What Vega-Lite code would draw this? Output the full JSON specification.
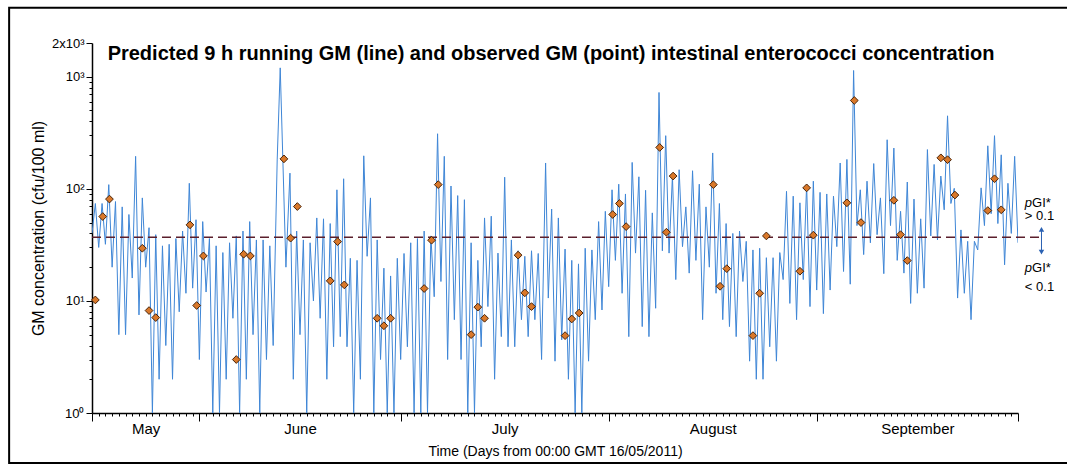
{
  "$schema": "https://vega.github.io/schema/vega-lite/v6.json",
  "width": 926,
  "height": 370,
  "autosize": {"type": "none"},
  "padding": {"left": 92, "top": 43, "right": 49, "bottom": 60},
  "background": "white",
  "config": {
    "view": {"stroke": null},
    "font": "Liberation Sans"
  },
  "title": {
    "text": "Predicted 9 h running GM (line) and observed GM (point) intestinal enterococci concentration",
    "fontSize": 20,
    "fontWeight": "bold",
    "font": "Liberation Sans",
    "color": "black",
    "anchor": "middle",
    "frame": "group",
    "offset": -57,
    "dx": -4
  },
  "datasets": {
    "line": [
      {"d":0,"v":40},{"d":0.5,"v":74},{"d":1,"v":30},{"d":1.5,"v":74},{"d":2,"v":32},{"d":2.5,"v":109},{"d":3,"v":20},{"d":3.5,"v":77},{"d":4,"v":5},{"d":4.5,"v":69},{"d":5,"v":5},{"d":5.5,"v":59},{"d":6,"v":16},{"d":6.5,"v":195},{"d":7,"v":7.5},{"d":7.5,"v":83},{"d":8,"v":20},{"d":8.5,"v":45},{"d":9,"v":1},{"d":9.5,"v":39},{"d":10,"v":2},{"d":10.5,"v":31},{"d":11,"v":4},{"d":11.5,"v":32},{"d":12,"v":2},{"d":12.5,"v":36},{"d":13,"v":8},{"d":13.5,"v":42},{"d":14,"v":11.7},{"d":14.5,"v":112},{"d":15,"v":13},{"d":15.5,"v":53},{"d":16,"v":3},{"d":16.5,"v":51},{"d":17,"v":12},{"d":17.5,"v":36},{"d":18,"v":1},{"d":18.5,"v":31},{"d":19,"v":1},{"d":19.5,"v":27},{"d":20,"v":2},{"d":20.5,"v":33},{"d":21,"v":7},{"d":21.5,"v":38},{"d":22,"v":1},{"d":22.5,"v":42},{"d":23,"v":2},{"d":23.5,"v":51},{"d":24,"v":5},{"d":24.5,"v":35},{"d":25,"v":1},{"d":25.5,"v":35},{"d":26,"v":3},{"d":26.5,"v":31},{"d":27,"v":4},{"d":27.6,"v":181},{"d":28.05,"v":1200},{"d":28.9,"v":20},{"d":29.5,"v":138},{"d":30,"v":2},{"d":30.5,"v":42},{"d":31,"v":5},{"d":31.5,"v":35},{"d":32,"v":1},{"d":32.5,"v":33},{"d":33,"v":10},{"d":33.5,"v":55},{"d":34,"v":7},{"d":34.5,"v":54},{"d":35,"v":2},{"d":35.5,"v":49},{"d":36,"v":3.9},{"d":36.5,"v":98},{"d":37,"v":4.8},{"d":37.5,"v":123},{"d":38,"v":3.9},{"d":38.5,"v":24},{"d":39,"v":1},{"d":39.5,"v":23},{"d":40,"v":2},{"d":40.5,"v":197},{"d":41,"v":25},{"d":41.5,"v":83},{"d":42,"v":1},{"d":42.5,"v":35},{"d":43,"v":3},{"d":43.5,"v":19.6},{"d":44,"v":1},{"d":44.5,"v":16.7},{"d":45,"v":1},{"d":45.5,"v":24},{"d":46,"v":3},{"d":46.5,"v":26.5},{"d":47,"v":3.9},{"d":47.5,"v":33},{"d":48,"v":1},{"d":48.5,"v":36},{"d":49,"v":1},{"d":49.5,"v":42},{"d":50,"v":1},{"d":50.5,"v":38},{"d":51,"v":10.9},{"d":51.5,"v":310},{"d":52,"v":14.9},{"d":52.5,"v":195},{"d":53,"v":3},{"d":53.5,"v":106},{"d":54,"v":6.8},{"d":54.5,"v":87},{"d":55,"v":3},{"d":55.5,"v":80},{"d":56,"v":1},{"d":56.5,"v":33},{"d":57,"v":1},{"d":57.5,"v":23},{"d":58,"v":3.9},{"d":58.5,"v":55},{"d":59,"v":8.9},{"d":59.5,"v":57},{"d":60,"v":2},{"d":60.5,"v":26.7},{"d":61,"v":4.8},{"d":61.5,"v":127},{"d":62,"v":3.9},{"d":62.5,"v":35},{"d":63,"v":3.9},{"d":63.5,"v":28},{"d":64,"v":6.8},{"d":64.5,"v":25},{"d":65,"v":4.8},{"d":65.5,"v":28},{"d":66,"v":6.8},{"d":66.5,"v":26.5},{"d":67,"v":3},{"d":67.6,"v":170},{"d":68,"v":10.6},{"d":68.5,"v":66},{"d":69,"v":2.9},{"d":69.5,"v":55},{"d":70,"v":4.5},{"d":70.5,"v":29},{"d":71,"v":2},{"d":71.5,"v":23},{"d":72,"v":1},{"d":72.5,"v":21.4},{"d":73,"v":1},{"d":73.5,"v":29.5},{"d":74,"v":2.9},{"d":74.5,"v":28.5},{"d":75,"v":6.8},{"d":75.5,"v":51},{"d":76,"v":8.3},{"d":76.5,"v":63},{"d":77,"v":13.4},{"d":77.5,"v":98},{"d":78,"v":23},{"d":78.5,"v":110},{"d":79,"v":11.7},{"d":79.5,"v":90},{"d":80,"v":4.8},{"d":80.5,"v":172},{"d":81,"v":26.7},{"d":81.5,"v":128},{"d":82,"v":5.9},{"d":82.5,"v":97},{"d":83,"v":4.8},{"d":83.5,"v":61},{"d":84,"v":8.6},{"d":84.5,"v":724},{"d":85,"v":28},{"d":85.5,"v":298},{"d":86,"v":26.7},{"d":86.5,"v":130},{"d":87,"v":15.5},{"d":87.5,"v":148},{"d":88,"v":30.5},{"d":88.5,"v":69},{"d":89,"v":17.7},{"d":89.5,"v":145},{"d":90,"v":23},{"d":90.5,"v":110},{"d":91,"v":6.8},{"d":91.5,"v":69},{"d":92,"v":20},{"d":92.5,"v":209},{"d":93,"v":11.7},{"d":93.5,"v":74},{"d":94,"v":6.8},{"d":94.5,"v":49},{"d":95,"v":5.9},{"d":95.5,"v":40},{"d":96,"v":4.8},{"d":96.5,"v":42},{"d":97,"v":14.9},{"d":97.5,"v":34},{"d":98,"v":2.9},{"d":98.5,"v":28.5},{"d":99,"v":2},{"d":99.5,"v":29.5},{"d":100,"v":2},{"d":100.5,"v":24.3},{"d":101,"v":3.9},{"d":101.5,"v":24.3},{"d":102,"v":2.9},{"d":102.5,"v":27},{"d":103,"v":15.5},{"d":103.5,"v":95},{"d":104,"v":9.5},{"d":104.5,"v":86},{"d":105,"v":6.8},{"d":105.5,"v":75},{"d":106,"v":15.5},{"d":106.5,"v":109},{"d":107,"v":8.9},{"d":107.5,"v":117},{"d":108,"v":12.5},{"d":108.5,"v":93},{"d":109,"v":7.7},{"d":109.5,"v":90},{"d":110,"v":12.5},{"d":110.5,"v":86},{"d":111,"v":30.5},{"d":111.5,"v":170},{"d":112,"v":18.3},{"d":112.5,"v":183},{"d":113,"v":14.1},{"d":113.5,"v":1137},{"d":114,"v":47},{"d":114.5,"v":98},{"d":115,"v":25.9},{"d":115.5,"v":117},{"d":116,"v":33},{"d":116.5,"v":168},{"d":117,"v":39},{"d":117.5,"v":83},{"d":118,"v":17.5},{"d":118.5,"v":274},{"d":119,"v":47},{"d":119.5,"v":231},{"d":120,"v":23},{"d":120.5,"v":63},{"d":121,"v":17.7},{"d":121.5,"v":115},{"d":122,"v":9.5},{"d":122.5,"v":81},{"d":123,"v":11.7},{"d":123.5,"v":54},{"d":124,"v":13},{"d":124.5,"v":224},{"d":125,"v":38},{"d":125.5,"v":165},{"d":126,"v":35},{"d":126.5,"v":130},{"d":127,"v":65},{"d":127.5,"v":448},{"d":128,"v":74},{"d":128.5,"v":101},{"d":129,"v":10.6},{"d":129.5,"v":43},{"d":130,"v":11.7},{"d":130.5,"v":34},{"d":131,"v":6.8},{"d":131.5,"v":34},{"d":132,"v":28.5},{"d":132.5,"v":102},{"d":133,"v":47},{"d":133.5,"v":242},{"d":134,"v":60},{"d":134.5,"v":298},{"d":135,"v":49},{"d":135.5,"v":201},{"d":136,"v":21},{"d":136.5,"v":112},{"d":137,"v":40},{"d":137.5,"v":195},{"d":138,"v":33}
    ],
    "obs": [
      {"d":0.5,"v":10.2},{"d":1.6,"v":56.6},{"d":2.6,"v":81},{"d":7.5,"v":29.5},{"d":8.5,"v":8.2},{"d":9.5,"v":7.1},{"d":14.6,"v":47.7},{"d":15.6,"v":9.1},{"d":16.6,"v":25.2},{"d":21.5,"v":3.0},{"d":22.6,"v":26.1},{"d":23.6,"v":25.2},{"d":28.6,"v":185},{"d":29.6,"v":36.3},{"d":30.6,"v":69.5},
      {"d":35.5,"v":15.1},{"d":36.6,"v":33.8},{"d":37.6,"v":13.9},{"d":42.5,"v":7.0},{"d":43.5,"v":6.0},{"d":44.5,"v":7.0},{"d":49.5,"v":12.9},{"d":50.6,"v":34.8},{"d":51.6,"v":109},{"d":56.5,"v":5.0},{"d":57.5,"v":8.8},{"d":58.5,"v":7.0},{"d":63.5,"v":25.6},{"d":64.5,"v":11.8},{"d":65.5,"v":8.9},
      {"d":70.5,"v":4.9},{"d":71.5,"v":6.9},{"d":72.6,"v":7.8},{"d":77.6,"v":59},{"d":78.6,"v":74},{"d":79.6,"v":46},{"d":84.6,"v":234},{"d":85.6,"v":41},{"d":86.6,"v":130},{"d":92.6,"v":109},{"d":93.6,"v":13.5},{"d":94.6,"v":19.4},{"d":98.5,"v":4.9},{"d":99.5,"v":11.7},{"d":100.5,"v":38},
      {"d":105.5,"v":18.4},{"d":106.5,"v":102},{"d":107.5,"v":38.6},{"d":112.5,"v":75},{"d":113.6,"v":614},{"d":114.6,"v":50},{"d":119.5,"v":79},{"d":120.5,"v":39},{"d":121.5,"v":22.9},{"d":126.5,"v":189},{"d":127.5,"v":182},{"d":128.6,"v":88},{"d":133.5,"v":64},{"d":134.5,"v":123},{"d":135.5,"v":65}
    ],
    "notes": [
      {"d":140.1,"v":75,"t":"p","k":"p"},
      {"d":140.1,"v":75,"t":"GI*","k":"g"},
      {"d":141.2,"v":57.4,"t":"> 0.1","k":"c"},
      {"d":140.1,"v":19.7,"t":"p","k":"p"},
      {"d":140.1,"v":19.7,"t":"GI*","k":"g"},
      {"d":141.2,"v":13.3,"t":"< 0.1","k":"c"}
    ],
    "frame": [{"x1": -12.35, "x2": 150, "y1": 4130, "y2": 0.358}],
    "cut": [{"d0": 0, "d1": 141.4, "v": 37}],
    "arrow": [{"d": 141.5, "up": 43.5, "down": 27.2}]
  },
  "layer": [
    {
      "data": {"name": "line"},
      "mark": {"type": "line", "color": "#3f86d6", "strokeWidth": 1, "clip": true},
      "encoding": {
        "x": {
          "field": "d", "type": "quantitative",
          "scale": {"domain": [0, 138], "nice": false, "zero": false},
          "axis": {
            "title": "Time (Days from 00:00 GMT 16/05/2011)",
            "titleFontSize": 14, "titleFontWeight": "normal", "titleColor": "black", "titleFont": "Liberation Sans",
            "titlePadding": 3,
            "tickCount": 500,
            "values": [0,1,2,3,4,5,6,7,8,9,10,11,12,13,14,15,16,17,18,19,20,21,22,23,24,25,26,27,28,29,30,31,32,33,34,35,36,37,38,39,40,41,42,43,44,45,46,47,48,49,50,51,52,53,54,55,56,57,58,59,60,61,61.5,62,63,64,65,66,67,68,69,70,71,72,73,74,75,76,77,78,79,80,81,82,83,84,85,86,87,88,89,90,91,92,92.5,93,94,95,96,97,98,99,100,101,102,103,104,105,106,107,108,109,110,111,112,113,114,115,116,117,118,119,120,121,122,123,124,125,126,127,128,129,130,131,132,133,134,135,136,137,138],
            "labelExpr": "datum.value == 8 ? 'May' : datum.value == 31 ? 'June' : datum.value == 61.5 ? 'July' : datum.value == 92.5 ? 'August' : datum.value == 123 ? 'September' : ''",
            "labelOverlap": false,
            "labelBound": false,
            "labelFlush": false,
            "labelFontSize": 15,
            "labelColor": "black",
            "labelPadding": 5,
            "grid": false,
            "domainColor": "black",
            "domainWidth": 1.5,
            "tickColor": "black",
            "tickWidth": 1,
            "tickSize": {"condition": {"test": "indexof([0,16,46,77,108,138], datum.value) >= 0", "value": 8}, "value": 3},
            "tickOpacity": {"condition": {"test": "datum.value == 61.5 || datum.value == 92.5", "value": 0}, "value": 1}
          }
        },
        "y": {
          "field": "v", "type": "quantitative",
          "scale": {"type": "log", "domain": [1, 2000], "nice": false},
          "axis": {
            "title": "GM concentration (cfu/100 ml)",
            "titleFontSize": 16, "titleFontWeight": "normal", "titleColor": "black", "titleFont": "Liberation Sans",
            "titlePadding": 5,
            "tickCount": 500,
            "values": [1,2,3,4,5,6,7,8,9,10,20,30,40,50,60,70,80,90,100,200,300,400,500,600,700,800,900,1000,2000],
            "labelExpr": "datum.value == 1 ? '10⁰' : datum.value == 10 ? '10¹' : datum.value == 100 ? '10²' : datum.value == 1000 ? '10³' : datum.value == 2000 ? '2x10³' : ''",
            "labelOverlap": false,
            "labelBound": false,
            "labelFlush": false,
            "labelFontSize": 13,
            "labelColor": "black",
            "labelPadding": 2,
            "grid": false,
            "domainColor": "black",
            "domainWidth": 1.5,
            "tickColor": "black",
            "tickWidth": 1,
            "tickSize": {"condition": {"test": "indexof([1,10,100,1000,2000], datum.value) >= 0", "value": 6}, "value": 3}
          }
        }
      }
    },
    {
      "data": {"name": "frame"},
      "mark": {"type": "rect", "fill": "transparent", "stroke": "black", "strokeWidth": 2, "clip": false},
      "encoding": {
        "x": {"field": "x1", "type": "quantitative"},
        "x2": {"field": "x2"},
        "y": {"field": "y1", "type": "quantitative"},
        "y2": {"field": "y2"}
      }
    },
    {
      "data": {"name": "cut"},
      "mark": {"type": "rule", "color": "#5b1f2c", "strokeWidth": 1.4, "strokeDash": [9, 5], "clip": false},
      "encoding": {
        "x": {"field": "d0", "type": "quantitative"},
        "x2": {"field": "d1"},
        "y": {"field": "v", "type": "quantitative"}
      }
    },
    {
      "data": {"name": "obs"},
      "mark": {"type": "point", "shape": "diamond", "filled": true, "size": 60, "fill": "#d9782a", "stroke": "#4a2408", "strokeWidth": 1, "opacity": 1},
      "encoding": {
        "x": {"field": "d", "type": "quantitative"},
        "y": {"field": "v", "type": "quantitative"}
      }
    },
    {
      "data": {"name": "arrow"},
      "mark": {"type": "rule", "color": "#2b62b3", "strokeWidth": 1, "clip": false},
      "encoding": {
        "x": {"field": "d", "type": "quantitative"},
        "y": {"field": "up", "type": "quantitative"},
        "y2": {"field": "down"}
      }
    },
    {
      "data": {"name": "arrow"},
      "mark": {"type": "point", "shape": "triangle-up", "filled": true, "size": 30, "color": "#2b62b3", "opacity": 1, "clip": false},
      "encoding": {
        "x": {"field": "d", "type": "quantitative"},
        "y": {"field": "up", "type": "quantitative"}
      }
    },
    {
      "data": {"name": "arrow"},
      "mark": {"type": "point", "shape": "triangle-down", "filled": true, "size": 30, "color": "#2b62b3", "opacity": 1, "clip": false},
      "encoding": {
        "x": {"field": "d", "type": "quantitative"},
        "y": {"field": "down", "type": "quantitative"}
      }
    },
    {
      "data": {"name": "notes"},
      "transform": [{"filter": "datum.k == 'p'"}],
      "mark": {"type": "text", "fontSize": 13, "fontStyle": "italic", "color": "black", "baseline": "middle", "align": "right", "clip": false},
      "encoding": {
        "x": {"field": "d", "type": "quantitative"},
        "y": {"field": "v", "type": "quantitative"},
        "text": {"field": "t"}
      }
    },
    {
      "data": {"name": "notes"},
      "transform": [{"filter": "datum.k == 'g'"}],
      "mark": {"type": "text", "fontSize": 13, "color": "black", "baseline": "middle", "align": "left", "clip": false},
      "encoding": {
        "x": {"field": "d", "type": "quantitative"},
        "y": {"field": "v", "type": "quantitative"},
        "text": {"field": "t"}
      }
    },
    {
      "data": {"name": "notes"},
      "transform": [{"filter": "datum.k == 'c'"}],
      "mark": {"type": "text", "fontSize": 13, "color": "black", "baseline": "middle", "align": "center", "clip": false},
      "encoding": {
        "x": {"field": "d", "type": "quantitative"},
        "y": {"field": "v", "type": "quantitative"},
        "text": {"field": "t"}
      }
    }
  ]
}
